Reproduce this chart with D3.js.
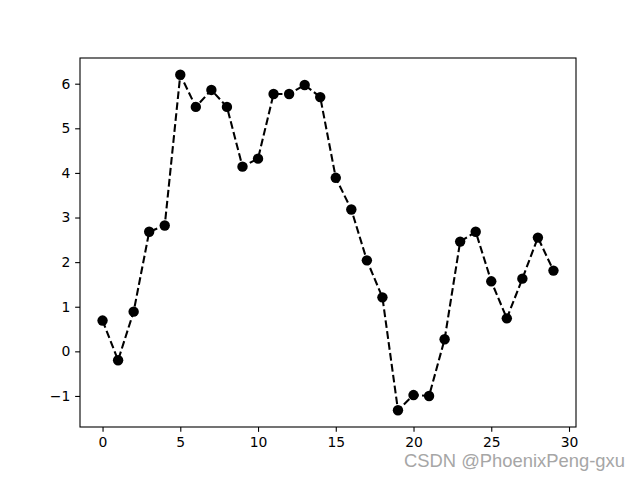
<!DOCTYPE html>
<html><head><meta charset="utf-8">
<script src="https://cdn.jsdelivr.net/npm/d3@7"></script>
<style>body{margin:0;background:#fff}svg{display:block}</style>
</head><body>
<script>
const xValues = d3.range(30);
const yValues = [0.69, -0.20, 0.89, 2.68, 2.82, 6.20, 5.48, 5.86, 5.48, 4.14,
                 4.32, 5.77, 5.77, 5.97, 5.70, 3.89, 3.18, 2.04, 1.21, -1.32,
                 -0.98, -1.00, 0.27, 2.46, 2.68, 1.57, 0.74, 1.63, 2.55, 1.81];
const xTicks = [0, 5, 10, 15, 20, 25, 30];
const yTicks = [-1, 0, 1, 2, 3, 4, 5, 6];
const watermark = "CSDN @PhoenixPeng-gxu";

const W = 640, H = 480;
const L = 80, R = 576, T = 58, B = 427;
const svg = d3.select("body").append("svg").attr("width", W).attr("height", H);

const xmin = d3.min(xValues), xmax = d3.max(xValues);
const ymin = d3.min(yValues), ymax = d3.max(yValues);
const xm = (xmax - xmin) * 0.05, ym = (ymax - ymin) * 0.05;
const x = d3.scaleLinear().domain([xmin - xm, xmax + xm]).range([L, R]);
const y = d3.scaleLinear().domain([ymin - ym, ymax + ym]).range([B, T]);

const font = "DejaVu Sans, sans-serif";
const xAxis = svg.append("g").attr("transform", `translate(0,${B})`)
  .call(d3.axisBottom(x).tickValues(xTicks).tickSize(4.86).tickPadding(4.9).tickFormat(d3.format("d")));
const yAxis = svg.append("g").attr("transform", `translate(${L},0)`)
  .call(d3.axisLeft(y).tickValues(yTicks).tickSize(4.86).tickPadding(4.9)
    .tickFormat(d => d < 0 ? "\u2212" + Math.abs(d) : d));
[xAxis, yAxis].forEach(g => {
  g.select(".domain").remove();
  g.selectAll("line").attr("stroke", "#000").attr("stroke-width", 1.1);
  g.selectAll("text").attr("font-family", font).attr("font-size", 13.9).attr("fill", "#000");
});

svg.append("rect").attr("x", L).attr("y", T).attr("width", R - L).attr("height", B - T)
  .attr("fill", "none").attr("stroke", "#000").attr("stroke-width", 1.1);

const data = xValues.map((d, i) => [d, yValues[i]]);
svg.append("path").datum(data)
  .attr("d", d3.line().x(d => x(d[0])).y(d => y(d[1])))
  .attr("fill", "none").attr("stroke", "#000").attr("stroke-width", 2.08)
  .attr("stroke-dasharray", "7.7,3.3");

svg.append("g").selectAll("circle").data(data).join("circle")
  .attr("cx", d => x(d[0])).attr("cy", d => y(d[1])).attr("r", 5.2).attr("fill", "#000");

svg.append("text").attr("x", 404).attr("y", 467)
  .attr("font-family", "Liberation Sans, Arial, sans-serif").attr("font-size", 19)
  .attr("textLength", 221).attr("lengthAdjust", "spacingAndGlyphs")
  .attr("fill", "#a6a6a6").text(watermark);
</script>
</body></html>
